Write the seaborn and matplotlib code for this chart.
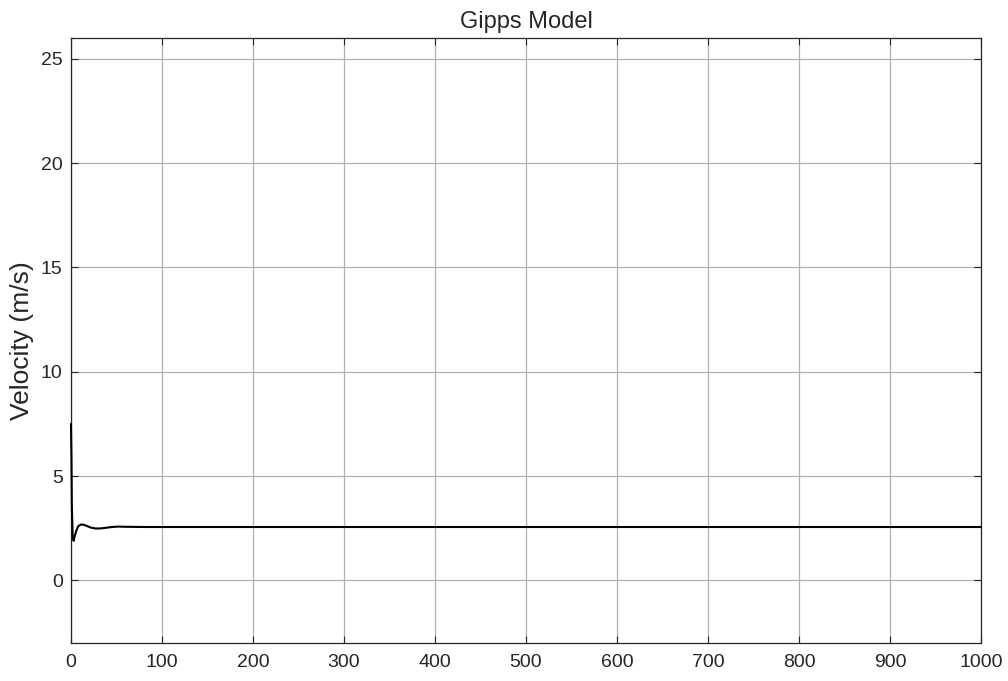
import matplotlib
matplotlib.use("Agg")
import matplotlib.pyplot as plt
import seaborn as sns
import pandas as pd

# Gipps model velocity trace
time_s = [0, 0.5, 1, 2, 3, 4, 6, 8, 11, 14, 18, 22, 27, 32, 38, 45, 52, 60, 80, 150, 1000]
velocity = [7.5, 6.0, 3.5, 2.0, 1.9, 2.1, 2.4, 2.6, 2.68, 2.67, 2.6, 2.53, 2.49, 2.49, 2.52, 2.56, 2.58, 2.57, 2.56, 2.56, 2.56]

xticks = list(range(0, 1001, 100))
yticks = [0, 5, 10, 15, 20, 25]

df = pd.DataFrame({"t": time_s, "v": velocity})

sns.set_style("white")
plt.rcParams['font.family'] = ['Liberation Sans', 'DejaVu Sans']

fig = plt.figure(figsize=(10.08, 6.81), dpi=100)
ax = fig.add_axes([0.0704, 0.0558, 0.9028, 0.8884])

sns.lineplot(data=df, x="t", y="v", ax=ax, color="black", linewidth=1.5)
# draw the trace over the left spine so the initial spike shows
ax.lines[0].set_zorder(3)
ax.lines[0].set_clip_on(False)

ax.set_xlim(0, 1000)
ax.set_ylim(-3, 26)
ax.set_xticks(xticks)
ax.set_yticks(yticks)
ax.grid(True, color="#b0b0b0", linewidth=0.9)
ax.set_axisbelow(True)
ax.tick_params(direction="in", length=5, width=0.8, labelsize=14, colors="#262626",
               top=True, right=True, bottom=True, left=True)
ax.tick_params(axis="x", pad=8)
ax.tick_params(axis="y", pad=6)
for s in ax.spines.values():
    s.set_visible(True)
    s.set_color("#262626")
    s.set_linewidth(0.9)

ax.set_title("Gipps Model", fontsize=17, pad=7)
ax.set_xlabel("")
ax.set_ylabel("Velocity (m/s)", fontsize=19, labelpad=5)

fig.savefig("out.png", dpi=100, facecolor="white")
